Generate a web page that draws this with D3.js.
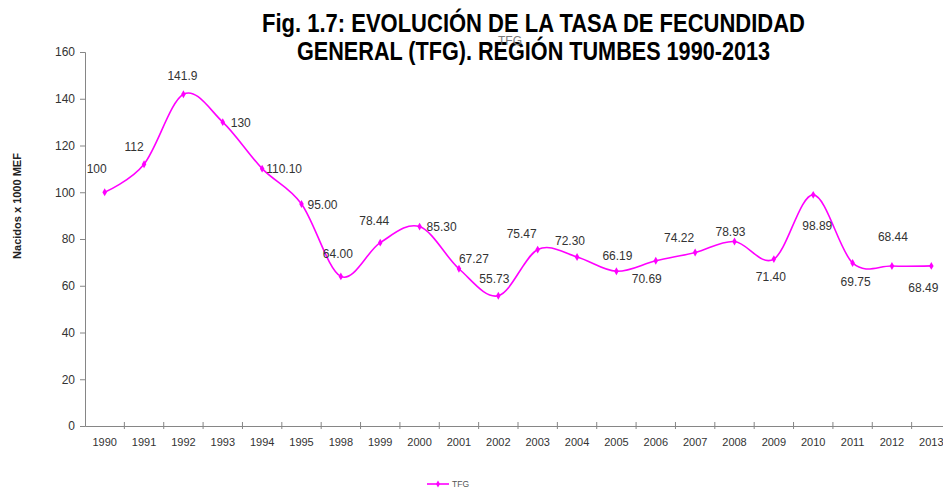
<!DOCTYPE html>
<html lang="es">
  <head>
    <meta charset="UTF-8" />
    <title>TFG Tumbes 1990-2013</title>
    <script src="https://cdn.jsdelivr.net/npm/d3@7/dist/d3.min.js"></script>
    <style>
      body { margin: 0; background: #fff; }
      text { font-family: "Liberation Sans", Arial, sans-serif; }
    </style>
  </head>
  <body>
    <svg width="943" height="489"></svg>
  </body>
  <script>
    // data (1996 and 1997 are not in the series)
    var years = ["1990", "1991", "1992", "1993", "1994", "1995", "1998", "1999", "2000", "2001", "2002",
                 "2003", "2004", "2005", "2006", "2007", "2008", "2009", "2010", "2011", "2012", "2013"];
    var tfg = [100, 112, 141.9, 130, 110.1, 95, 64, 78.44, 85.3, 67.27, 55.73,
               75.47, 72.3, 66.19, 70.69, 74.22, 78.93, 71.4, 98.89, 69.75, 68.44, 68.49];
    var tfgLabels = ["100", "112", "141.9", "130", "110.10", "95.00", "64.00", "78.44", "85.30", "67.27", "55.73",
                     "75.47", "72.30", "66.19", "70.69", "74.22", "78.93", "71.40", "98.89", "69.75", "68.44", "68.49"];
    var yTicks = [0, 20, 40, 60, 80, 100, 120, 140, 160];

    // where each data label sits relative to its point (layout only)
    var labelNudge = [[-8, -23], [-10, -17], [-1, -18], [18, 1], [22, 0], [21, 1], [-3, -22], [-6, -22],
                      [22, 0], [15, -10], [-4, -17], [-16, -16], [-7, -16], [1, -15], [-9, 18], [-16, -15],
                      [-4, -10], [-3, 18], [4, 31], [3, 19], [1, -29], [-8, 22]];

    var svg = d3.select("svg");
    var magenta = "#ff00ff";
    var axisColor = "#868686";

    var x = d3.scaleBand().domain(years).range([85, 951]).paddingInner(0).paddingOuter(0);
    var y = d3.scaleLinear().domain([0, 160]).range([426, 52]);

    // title
    var title = svg.append("g")
      .attr("font-weight", "bold")
      .attr("font-size", "26px")
      .attr("fill", "#000");
    title.append("text")
      .attr("x", 533.5).attr("y", 32)
      .attr("text-anchor", "middle")
      .attr("textLength", 543).attr("lengthAdjust", "spacingAndGlyphs")
      .style("font-family", '"Liberation Sans Narrow", "Arial Narrow", "Liberation Sans", sans-serif')
      .text("Fig. 1.7: EVOLUCIÓN DE LA TASA DE FECUNDIDAD");
    title.append("text")
      .attr("x", 533.5).attr("y", 60)
      .attr("text-anchor", "middle")
      .attr("textLength", 473).attr("lengthAdjust", "spacingAndGlyphs")
      .style("font-family", '"Liberation Sans Narrow", "Arial Narrow", "Liberation Sans", sans-serif')
      .text("GENERAL (TFG). REGIÓN TUMBES 1990-2013");

    // series name printed behind the title, as in the original
    svg.append("text")
      .attr("x", 510).attr("y", 45)
      .attr("text-anchor", "middle")
      .attr("font-size", "12px")
      .attr("fill", "#777")
      .text("TFG");

    // y axis
    var yAxis = d3.axisLeft(y).tickValues(yTicks).tickSize(5).tickPadding(5);
    var gy = svg.append("g").attr("transform", "translate(85,0)").call(yAxis);
    gy.select(".domain").attr("stroke", axisColor);
    gy.selectAll(".tick line").attr("stroke", axisColor);
    gy.selectAll(".tick text")
      .attr("fill", "#333")
      .style("font-family", '"Liberation Sans", Arial, sans-serif')
      .attr("font-size", "12px");

    // x axis: labels centred in bands, ticks on band edges
    var xAxis = d3.axisBottom(x).tickSizeInner(0).tickSizeOuter(0).tickPadding(12);
    var gx = svg.append("g").attr("transform", "translate(0,426)").call(xAxis);
    gx.select(".domain").attr("stroke", axisColor);
    gx.selectAll(".tick text")
      .attr("fill", "#333")
      .style("font-family", '"Liberation Sans", Arial, sans-serif')
      .attr("font-size", "11px");
    gx.selectAll(".edge")
      .data(years.slice(1))
      .enter()
      .append("line")
      .attr("class", "edge")
      .attr("x1", (d) => x(d))
      .attr("x2", (d) => x(d))
      .attr("y1", -4)
      .attr("y2", 3)
      .attr("stroke", axisColor);

    svg.append("text")
      .attr("transform", "translate(21,206) rotate(-90)")
      .attr("text-anchor", "middle")
      .attr("font-weight", "bold")
      .attr("font-size", "11px")
      .attr("fill", "#222")
      .text("Nacidos x 1000 MEF");

    // series
    var cx = (d, i) => x(years[i]) + x.bandwidth() / 2;
    var line = d3.line()
      .x(cx)
      .y((d) => y(d))
      .curve(d3.curveCardinal.tension(0));

    svg.append("path")
      .datum(tfg)
      .attr("d", line)
      .attr("fill", "none")
      .attr("stroke", magenta)
      .attr("stroke-width", 1.6);

    svg.selectAll(".pt")
      .data(tfg)
      .enter()
      .append("path")
      .attr("class", "pt")
      .attr("d", d3.symbol().type(d3.symbolDiamond).size(18))
      .attr("transform", (d, i) => "translate(" + cx(d, i) + "," + y(d) + ")")
      .attr("fill", magenta);

    svg.selectAll(".lbl")
      .data(tfg)
      .enter()
      .append("text")
      .attr("class", "lbl")
      .attr("x", (d, i) => cx(d, i) + labelNudge[i][0])
      .attr("y", (d, i) => y(d) + labelNudge[i][1] + 4)
      .attr("text-anchor", "middle")
      .attr("font-size", "12px")
      .attr("fill", "#333")
      .text((d, i) => tfgLabels[i]);

    // legend
    var lg = svg.append("g").attr("transform", "translate(427,484)");
    lg.append("line").attr("x1", 0).attr("x2", 22).attr("stroke", magenta).attr("stroke-width", 1.6);
    lg.append("path")
      .attr("d", d3.symbol().type(d3.symbolDiamond).size(14))
      .attr("transform", "translate(11,0)")
      .attr("fill", magenta);
    lg.append("text")
      .attr("x", 25).attr("y", 3)
      .attr("font-size", "8.5px")
      .attr("fill", "#555")
      .text("TFG");
  </script>
</html>
